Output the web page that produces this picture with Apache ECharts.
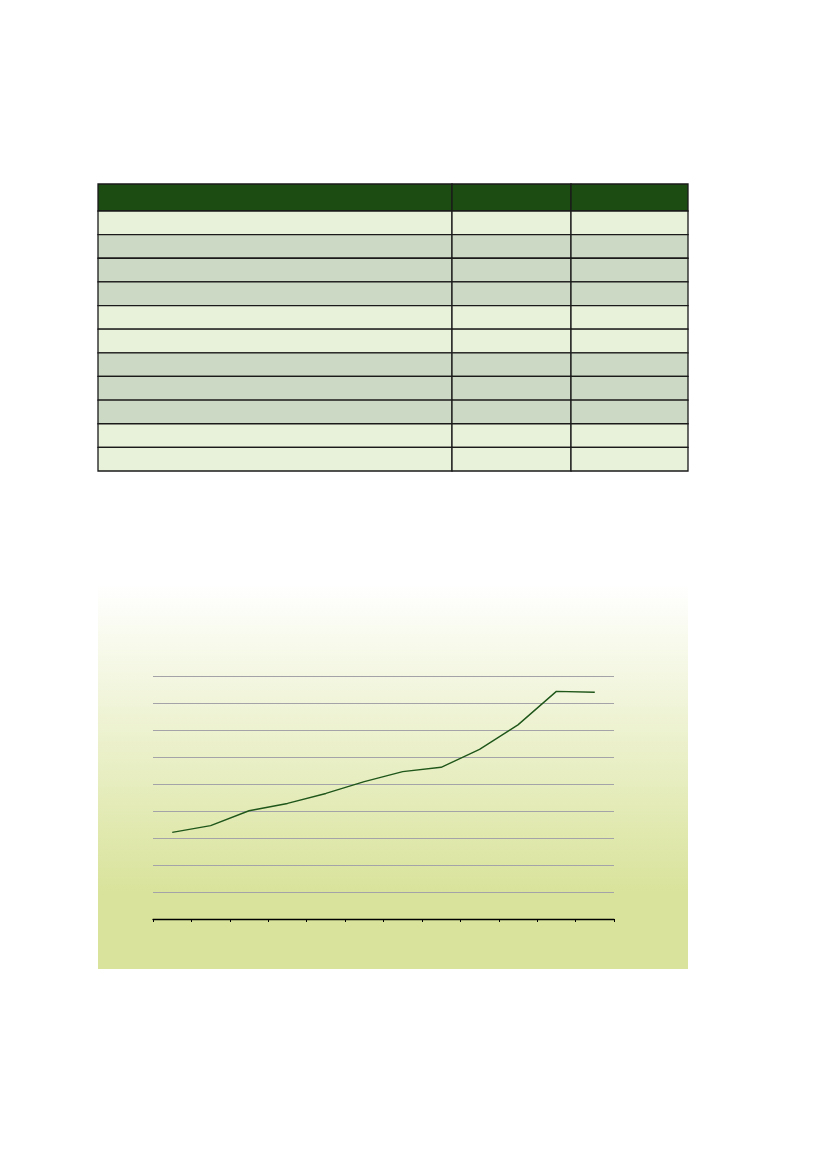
<!DOCTYPE html>
<html>
<head>
<meta charset="utf-8">
<script src="https://cdn.jsdelivr.net/npm/echarts@6/dist/echarts.min.js"></script>
<style>
  html, body { margin: 0; padding: 0; background: #ffffff; }
  #page { width: 827px; height: 1169px; }
</style>
</head>
<body>
<div id="page"></div>
<script>
// Data (no labels are printed in the reference)
const periods = ['1', '2', '3', '4', '5', '6', '7', '8', '9', '10', '11', '12'];
const values = [3.21, 3.46, 4.01, 4.28, 4.65, 5.09, 5.46, 5.62, 6.28, 7.19, 8.43, 8.40];
const yTicks = [0, 1, 2, 3, 4, 5, 6, 7, 8, 9];

// Table: shading of each body row, column splits
const rowShades = ['light', 'dark', 'dark', 'dark', 'light', 'light', 'dark', 'dark', 'dark', 'light', 'light'];
const colEdges = [98, 452, 571, 688];

const COLORS = {
  header: '#1c4c12',
  light: '#e8f1da',
  dark: '#ccd9c4',
  border: '#1a1a1a',
  line: '#1f561a',
  grid: '#a4a4a8',
  bgTop: '#ffffff',
  bgBottom: '#d9e39b'
};

function buildTable() {
  const els = [];
  const headerTop = 184, headerH = 27;
  const bodyTop = headerTop + headerH, bodyBottom = 471;
  const rowH = (bodyBottom - bodyTop) / rowShades.length;

  const rows = [{ y: headerTop, h: headerH, fill: COLORS.header }].concat(
    rowShades.map((s, i) => ({ y: bodyTop + i * rowH, h: rowH, fill: COLORS[s] }))
  );

  rows.forEach(r => {
    for (let c = 0; c < colEdges.length - 1; c++) {
      els.push({
        type: 'rect',
        shape: { x: colEdges[c], y: r.y, width: colEdges[c + 1] - colEdges[c], height: r.h },
        style: { fill: r.fill, stroke: COLORS.border, lineWidth: 1.3 },
        silent: true
      });
    }
  });
  return els;
}

const chart = echarts.init(document.getElementById('page'));

const option = {
  backgroundColor: '#ffffff',
  animation: false,
  graphic: [
    {
      type: 'rect',
      z: -10,
      shape: { x: 98, y: 585, width: 590, height: 384 },
      style: {
        fill: new echarts.graphic.LinearGradient(0, 0, 0, 1, [
          { offset: 0, color: COLORS.bgTop },
          { offset: 0.8, color: COLORS.bgBottom },
          { offset: 1, color: COLORS.bgBottom }
        ])
      },
      silent: true
    }
  ].concat(buildTable()),
  grid: { left: 153, top: 676, width: 461, height: 243, containLabel: false },
  xAxis: {
    type: 'category',
    data: periods,
    boundaryGap: true,
    axisLine: { lineStyle: { color: '#000000', width: 1.3 } },
    axisTick: { show: true, inside: false, length: 3, alignWithLabel: false, lineStyle: { color: '#000000' } },
    axisLabel: { show: false },
    splitLine: { show: false }
  },
  yAxis: {
    type: 'value',
    min: yTicks[0],
    max: yTicks[yTicks.length - 1],
    interval: 1,
    axisLine: { show: false },
    axisTick: { show: false },
    axisLabel: { show: false },
    splitLine: { lineStyle: { color: COLORS.grid, width: 1.2 } }
  },
  series: [{
    type: 'line',
    data: values,
    showSymbol: false,
    smooth: false,
    lineStyle: { color: COLORS.line, width: 1.4 },
    z: 5
  }]
};

chart.setOption(option);
</script>
</body>
</html>
